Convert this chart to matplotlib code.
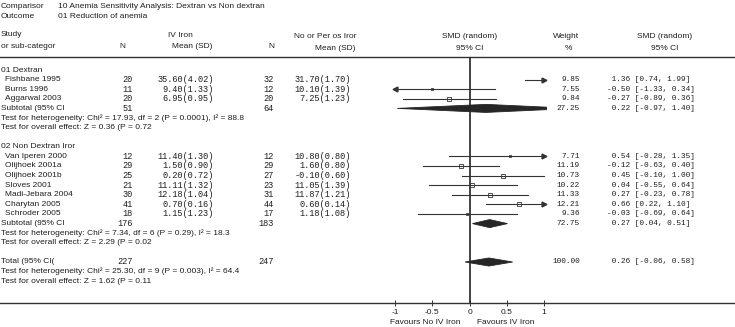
import matplotlib
matplotlib.use('Agg')
import matplotlib.pyplot as plt
from matplotlib.transforms import blended_transform_factory
from matplotlib.patches import Polygon, Rectangle

# 数据：01 Dextran
g1_names = ['Fishbane 1995', 'Burns 1996', 'Aggarwal 2003']
g1_n_iv = [20, 11, 20]
g1_mean_iv = [35.60, 9.40, 6.95]
g1_sd_iv = [4.02, 1.33, 0.95]
g1_n_ctrl = [32, 12, 20]
g1_mean_ctrl = [31.70, 10.10, 7.25]
g1_sd_ctrl = [1.70, 1.39, 1.23]
g1_weight = [9.85, 7.55, 9.84]
g1_smd = [1.36, -0.50, -0.27]
g1_lo = [0.74, -1.33, -0.89]
g1_hi = [1.99, 0.34, 0.36]

# 数据：02 Non Dextran Iron
g2_names = ['Van Iperen 2000', 'Olijhoek 2001a', 'Olijhoek 2001b', 'Sloves 2001',
            'Madi-Jebara 2004', 'Charytan 2005', 'Schroder 2005']
g2_n_iv = [12, 29, 25, 21, 30, 41, 18]
g2_mean_iv = [11.40, 1.50, 0.20, 11.11, 12.18, 0.70, 1.15]
g2_sd_iv = [1.30, 0.90, 0.72, 1.32, 1.04, 0.16, 1.23]
g2_n_ctrl = [12, 29, 27, 23, 31, 44, 17]
g2_mean_ctrl = [10.80, 1.60, -0.10, 11.05, 11.87, 0.60, 1.18]
g2_sd_ctrl = [0.80, 0.80, 0.60, 1.39, 1.21, 0.14, 1.08]
g2_weight = [7.71, 11.19, 10.73, 10.22, 11.33, 12.21, 9.36]
g2_smd = [0.54, -0.12, 0.45, 0.04, 0.27, 0.66, -0.03]
g2_lo = [-0.28, -0.63, -0.10, -0.55, -0.23, 0.22, -0.69]
g2_hi = [1.35, 0.40, 1.00, 0.64, 0.78, 1.10, 0.64]

# 合并结果：Dextran 小计, Non Dextran 小计, 总计
pool_labels = ['Subtotal (95% CI', 'Subtotal (95% CI', 'Total (95% CI(']
pool_n_iv = [51, 176, 227]
pool_n_ctrl = [64, 183, 247]
pool_weight = [27.25, 72.75, 100.00]
pool_smd = [0.22, 0.27, 0.26]
pool_lo = [-0.97, 0.04, -0.06]
pool_hi = [1.40, 0.51, 0.58]
pool_het = ['Test for heterogeneity: Chi\u00b2 = 17.93, df = 2 (P = 0.0001), I\u00b2 = 88.8',
            'Test for heterogeneity: Chi\u00b2 = 7.34, df = 6 (P = 0.29), I\u00b2 = 18.3',
            'Test for heterogeneity: Chi\u00b2 = 25.30, df = 9 (P = 0.003), I\u00b2 = 64.4']
pool_z = ['Test for overall effect: Z = 0.36 (P = 0.72',
          'Test for overall effect: Z = 2.29 (P = 0.02',
          'Test for overall effect: Z = 1.62 (P = 0.11']

xticks = [-1, -0.5, 0, 0.5, 1]
xticklabels = ['-1', '-0.5', '0', '0.5', '1']

SANS = 'Liberation Sans'
MONO = 'Liberation Mono'
TXT = '#1e1e1e'
LN = '#333333'

W, H = 735, 327
fig = plt.figure(figsize=(W / 100, H / 100), dpi=100)
ax = fig.add_axes([0, 24 / H, 1, 1 - 24 / H])

# 行坐标：第0行位于 70px，行距 9.6px
row0, dy = 70, 9.6
ax.set_ylim((303 - row0) / dy, -row0 / dy)
xm1, xp1 = 395, 544
upp = 2 / (xp1 - xm1)
ax.set_xlim(-1 - xm1 * upp, 1 + (W - xp1) * upp)

def prow(py):
    return (py - row0) / dy

def px(x):
    return x / W

tr = blended_transform_factory(ax.transAxes, ax.transData)

def put(x, y, s, ha='left', mono=False, size=None):
    ax.text(px(x), y, s, transform=tr, ha=ha, va='center', color=TXT,
            family=MONO if mono else SANS,
            fontsize=size or (6.2 if mono else 6), clip_on=False)

# 标题
put(1, prow(6), 'Comparisor')
put(58, prow(6), '10 Anemia Sensitivity Analysis: Dextran vs Non dextran')
put(1, prow(16), 'Outcome')
put(58, prow(16), '01 Reduction of anemia')

# 表头
put(1, prow(34), 'Study')
put(1, prow(46.5), 'or sub-categor')
put(122, prow(46.5), 'N', ha='center')
put(180, prow(35.5), 'IV Iron', ha='center')
put(212, prow(47), 'Mean (SD)', ha='right')
put(271, prow(47), 'N', ha='center')
put(325, prow(37), 'No or Per os Iror', ha='center')
put(355, prow(48), 'Mean (SD)', ha='right')
put(470, prow(37), 'SMD (random)', ha='center')
put(470, prow(48), '95% CI', ha='center')
put(566, prow(37), 'Weight', ha='center')
put(568, prow(48), '%', ha='center')
put(665, prow(37), 'SMD (random)', ha='center')
put(665, prow(48), '95% CI', ha='center')

hdr = prow(57)
ax.axhline(hdr, color=LN, lw=1.0)
ax.vlines(0, hdr, ax.get_ylim()[0], color='#222222', lw=1.2)

clip = Rectangle((-1.02, hdr), 2.06, 30, transform=ax.transData)

def study_row(y, name, n1, m1, s1, n2, m2, s2, w, est, lo, hi):
    put(5, y, name)
    put(133, y, str(n1), ha='right', mono=True)
    put(214, y, '%.2f(%.2f)' % (m1, s1), ha='right', mono=True)
    put(274, y, str(n2), ha='right', mono=True)
    put(351, y, '%.2f(%.2f)' % (m2, s2), ha='right', mono=True)
    put(580, y, '%.2f' % w, ha='right', mono=True, size=5.6)
    put(607, y, '%5.2f [%.2f, %.2f]' % (est, lo, hi), mono=True, size=5.6)
    ax.plot([max(lo, -1), min(hi, 1)], [y, y], color=LN, lw=0.8)
    if hi > 1:
        ax.plot(1.0, y, marker='>', ms=3.5, color=LN, mec=LN)
    if lo < -1:
        ax.plot(-1.0, y, marker='<', ms=3.5, color=LN, mec=LN)
    if -1 <= est <= 1:
        ax.plot(est, y, marker='s', ms=w * 0.22, mfc='none', mec=LN, mew=0.6)

def pooled(k, y):
    put(1, y, pool_labels[k])
    put(133, y, str(pool_n_iv[k]), ha='right', mono=True)
    put(274, y, str(pool_n_ctrl[k]), ha='right', mono=True)
    put(580, y, '%.2f' % pool_weight[k], ha='right', mono=True, size=5.6)
    put(607, y, '%5.2f [%.2f, %.2f]' % (pool_smd[k], pool_lo[k], pool_hi[k]),
        mono=True, size=5.6)
    h = 0.42
    d = Polygon([(pool_lo[k], y), (pool_smd[k], y - h), (pool_hi[k], y),
                 (pool_smd[k], y + h)], closed=True, fc='#262626', ec='#262626', lw=0.6)
    ax.add_patch(d)
    d.set_clip_path(clip)
    put(1, y + 1, pool_het[k])
    put(1, y + 2, pool_z[k])

put(1, 0, '01 Dextran')
for i in range(len(g1_names)):
    study_row(1 + i, g1_names[i], g1_n_iv[i], g1_mean_iv[i], g1_sd_iv[i],
              g1_n_ctrl[i], g1_mean_ctrl[i], g1_sd_ctrl[i], g1_weight[i],
              g1_smd[i], g1_lo[i], g1_hi[i])
pooled(0, 4)

put(1, 8, '02 Non Dextran Iror')
for i in range(len(g2_names)):
    study_row(9 + i, g2_names[i], g2_n_iv[i], g2_mean_iv[i], g2_sd_iv[i],
              g2_n_ctrl[i], g2_mean_ctrl[i], g2_sd_ctrl[i], g2_weight[i],
              g2_smd[i], g2_lo[i], g2_hi[i])
pooled(1, 16)
pooled(2, 20)

# 坐标轴
for s in ['top', 'left', 'right']:
    ax.spines[s].set_visible(False)
ax.spines['bottom'].set_color(LN)
ax.spines['bottom'].set_linewidth(1.0)
ax.set_yticks([])
ax.set_xticks(xticks)
ax.set_xticklabels(xticklabels, fontsize=6, family=SANS, color=TXT)
ax.tick_params(axis='x', direction='inout', length=4, width=0.7, color=LN, pad=2)

fig.text(px(460), 1 - 323 / H, 'Favours No IV Iron', ha='right', va='center',
         fontsize=6, family=SANS, color=TXT)
fig.text(px(477), 1 - 323 / H, 'Favours IV Iron', ha='left', va='center',
         fontsize=6, family=SANS, color=TXT)

fig.savefig('out.png', dpi=100)
